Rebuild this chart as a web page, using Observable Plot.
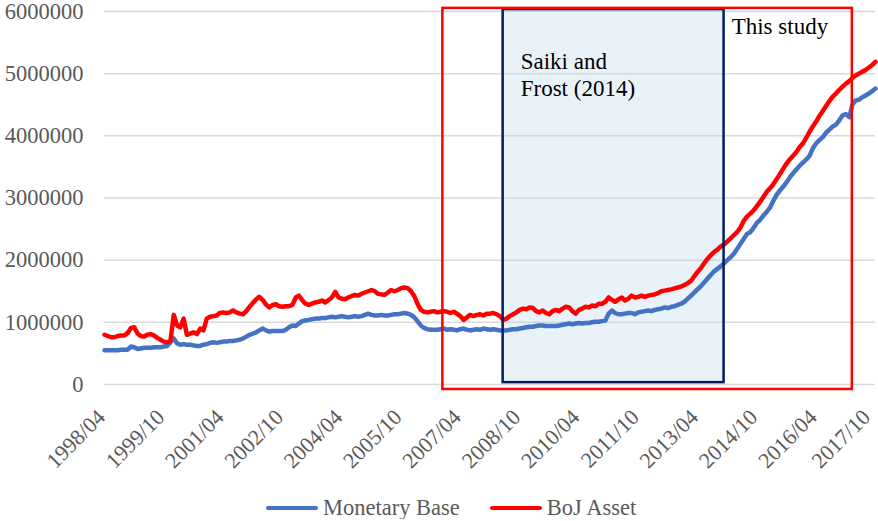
<!DOCTYPE html>
<html>
<head>
<meta charset="utf-8">
<script src="https://cdn.jsdelivr.net/npm/d3@7"></script>
<script src="https://cdn.jsdelivr.net/npm/@observablehq/plot@0.6"></script>
<style>
  html, body { margin: 0; padding: 0; background: #fff; }
  #chart svg, #chart svg text { font-family: "Liberation Serif", serif !important; }
  #legend { display: flex; align-items: center; height: 22px; margin-top: 19px; padding-left: 266px;
            font-family: "Liberation Serif", serif; font-size: 22.5px; color: #595959; }
  #legend .sw { width: 52px; height: 4px; border-radius: 2px; margin-right: 5px; }
  #legend .item { display: flex; align-items: center; margin-right: 30px; }
</style>
</head>
<body>
<div id="chart"></div>
<script>
// Monthly observations 1998/04 – 2017/10, values in thousands (×1000)
const startMonth = "1998-04";
const endMonth = "2017-10";
const seriesNames = ["Monetary Base", "BoJ Asset"];
const seriesColors = ["#4472C4", "#FF0000"];

const monetaryBaseK = [
  550,550,550,550,550,560,560,560,610,600,
  570,580,590,590,590,600,600,600,610,620,
  680,740,660,640,650,640,640,630,620,620,
  640,650,670,680,670,680,690,690,700,700,
  710,720,740,770,800,820,840,870,900,870,
  850,860,860,860,860,880,920,950,940,980,
  1020,1030,1040,1050,1060,1060,1070,1070,1080,1090,
  1080,1090,1100,1090,1080,1090,1100,1090,1100,1120,
  1140,1120,1110,1110,1120,1110,1110,1120,1130,1130,
  1140,1150,1140,1120,1080,1020,950,910,890,880,
  880,880,890,900,880,890,880,870,890,900,
  880,870,880,890,880,900,890,880,890,880,
  870,870,870,880,890,890,900,910,920,930,
  930,940,950,950,940,940,940,940,950,960,
  970,980,970,980,990,980,990,990,1000,1010,
  1010,1020,1030,1140,1190,1150,1130,1130,1140,1150,
  1150,1130,1160,1170,1180,1190,1180,1200,1210,1220,
  1240,1230,1250,1260,1280,1300,1330,1380,1430,1480,
  1530,1580,1640,1700,1760,1820,1860,1900,1950,2000,
  2050,2100,2180,2260,2340,2420,2450,2520,2600,2650,
  2720,2780,2850,2950,3050,3120,3180,3250,3330,3400,
  3460,3520,3570,3620,3680,3800,3880,3930,3980,4050,
  4100,4150,4180,4250,4330,4350,4300,4500,4570,4580,
  4620,4650,4680,4720,4760
];

const bojAssetK = [
  800,780,760,760,780,790,790,830,910,920,
  820,780,770,800,810,790,750,720,690,680,
  700,1120,950,920,1060,800,820,840,810,900,
  870,1060,1090,1100,1110,1150,1160,1150,1160,1190,
  1160,1140,1130,1180,1250,1310,1370,1410,1360,1290,
  1240,1280,1290,1260,1250,1260,1260,1280,1400,1430,
  1360,1300,1280,1300,1320,1330,1350,1320,1360,1400,
  1490,1400,1380,1370,1400,1420,1440,1430,1460,1480,
  1500,1520,1500,1460,1450,1440,1480,1520,1500,1520,
  1550,1560,1550,1500,1420,1300,1200,1170,1160,1170,
  1180,1160,1170,1180,1170,1150,1170,1140,1100,1040,
  1080,1120,1100,1120,1130,1110,1140,1140,1150,1130,
  1100,1040,1060,1100,1130,1160,1200,1220,1210,1240,
  1230,1180,1160,1190,1150,1130,1180,1200,1180,1220,
  1250,1240,1180,1140,1200,1220,1250,1240,1270,1260,
  1300,1300,1330,1400,1360,1330,1370,1400,1350,1380,
  1430,1400,1410,1430,1410,1430,1440,1450,1470,1500,
  1510,1520,1530,1545,1560,1575,1600,1630,1670,1740,
  1810,1870,1950,2020,2080,2130,2170,2220,2250,2300,
  2350,2400,2450,2520,2630,2700,2750,2800,2870,2940,
  3020,3100,3160,3220,3300,3380,3470,3550,3620,3680,
  3740,3820,3880,3970,4070,4150,4230,4320,4400,4480,
  4560,4630,4680,4740,4790,4840,4880,4930,4970,5000,
  5030,5060,5100,5140,5190
];

const xTickLabels = ["1998/04","1999/10","2001/04","2002/10","2004/04","2005/10","2007/04",
                     "2008/10","2010/04","2011/10","2013/04","2014/10","2016/04","2017/10"];
const yTicks = [0, 1000000, 2000000, 3000000, 4000000, 5000000, 6000000];

// Highlighted periods (rectangles)
const periodNames = ["This study", "Saiki and Frost (2014)"];
const periodStart = ["2006-10-22", "2008-05-01"];
const periodEnd = ["2017-03-01", "2013-12-02"];
const periodLow = [-80000, 30000];
const periodHigh = [6050000, 6030000];

// Annotation labels
const labelTexts = ["This study", "Saiki and\nFrost (2014)"];
const labelDates = ["2014-02-10", "2008-10-10"];
const labelValues = [5780000, 5000000];

const parseYM = d3.utcParse("%Y-%m");
const parseTick = d3.utcParse("%Y/%m");
const parseDay = d3.utcParse("%Y-%m-%d");
const months = d3.utcMonth.range(parseYM(startMonth), d3.utcMonth.offset(parseYM(endMonth), 1));
if (months.length !== monetaryBaseK.length || months.length !== bojAssetK.length)
  console.error("length mismatch", months.length, monetaryBaseK.length, bojAssetK.length);

const rows = [];
months.forEach((m, i) => {
  rows.push({date: m, value: monetaryBaseK[i] * 1000, series: seriesNames[0]});
});
months.forEach((m, i) => {
  rows.push({date: m, value: bojAssetK[i] * 1000, series: seriesNames[1]});
});
const periods = periodNames.map((n, i) => ({
  name: n, x1: parseDay(periodStart[i]), x2: parseDay(periodEnd[i]), y1: periodLow[i], y2: periodHigh[i]
}));
const labels = labelTexts.map((t, i) => ({text: t, date: parseDay(labelDates[i]), value: labelValues[i]}));

const FONT = "Liberation Serif";
const xTickDates = xTickLabels.map(parseTick);
const xAxisOpts = {tickSize: 0, tickPadding: 29, tickRotate: -45,
                   tickFormat: d3.utcFormat("%Y/%m"), fontSize: 22, fontFamily: FONT, label: null};

const chart = Plot.plot({
  width: 878,
  height: 478,
  marginLeft: 104,
  marginRight: 3,
  marginTop: 11,
  marginBottom: 94,
  style: {fontFamily: FONT, fontSize: "22px", color: "#595959", background: "#fff"},
  x: {type: "utc", domain: [parseYM(startMonth), parseYM(endMonth)]},
  y: {domain: [0, 6000000]},
  color: {domain: seriesNames, range: seriesColors},
  marks: [
    Plot.gridY(yTicks, {stroke: "#d9d9d9", strokeOpacity: 1, strokeWidth: 1.5}),
    Plot.rect(periods.slice(1), {x1: "x1", x2: "x2", y1: "y1", y2: "y2", fill: "#bdd7ee", fillOpacity: 0.33}),
    Plot.line(rows, {x: "date", y: "value", z: "series", stroke: "series", strokeWidth: 4.5,
                     strokeLinejoin: "round", strokeLinecap: "round"}),
    Plot.rect(periods.slice(1), {x1: "x1", x2: "x2", y1: "y1", y2: "y2", fill: "none", stroke: "#002060", strokeWidth: 2.5}),
    Plot.rect(periods.slice(0, 1), {x1: "x1", x2: "x2", y1: "y1", y2: "y2", fill: "none", stroke: "#FF0000", strokeWidth: 2.5}),
    Plot.text(labels, {x: "date", y: "value", text: "text", textAnchor: "start", fill: "#000",
                       fontSize: 23, lineHeight: 1.17, fontFamily: FONT}),
    Plot.axisY(yTicks, {tickSize: 0, tickPadding: 21, tickFormat: d3.format("d"), fontSize: 22.5, fontFamily: FONT}),
    Plot.axisX(xTickDates.slice(0, -1), {...xAxisOpts, dx: -3}),
    Plot.axisX(xTickDates.slice(-1), {...xAxisOpts, dx: -9})
  ]
});
document.getElementById("chart").appendChild(chart);

const legend = document.createElement("div");
legend.id = "legend";
seriesNames.forEach((n, i) => {
  const item = document.createElement("div");
  item.className = "item";
  const sw = document.createElement("div");
  sw.className = "sw";
  sw.style.background = seriesColors[i];
  const tx = document.createElement("span");
  tx.textContent = n;
  item.appendChild(sw);
  item.appendChild(tx);
  legend.appendChild(item);
});
document.body.appendChild(legend);
</script>
</body>
</html>
